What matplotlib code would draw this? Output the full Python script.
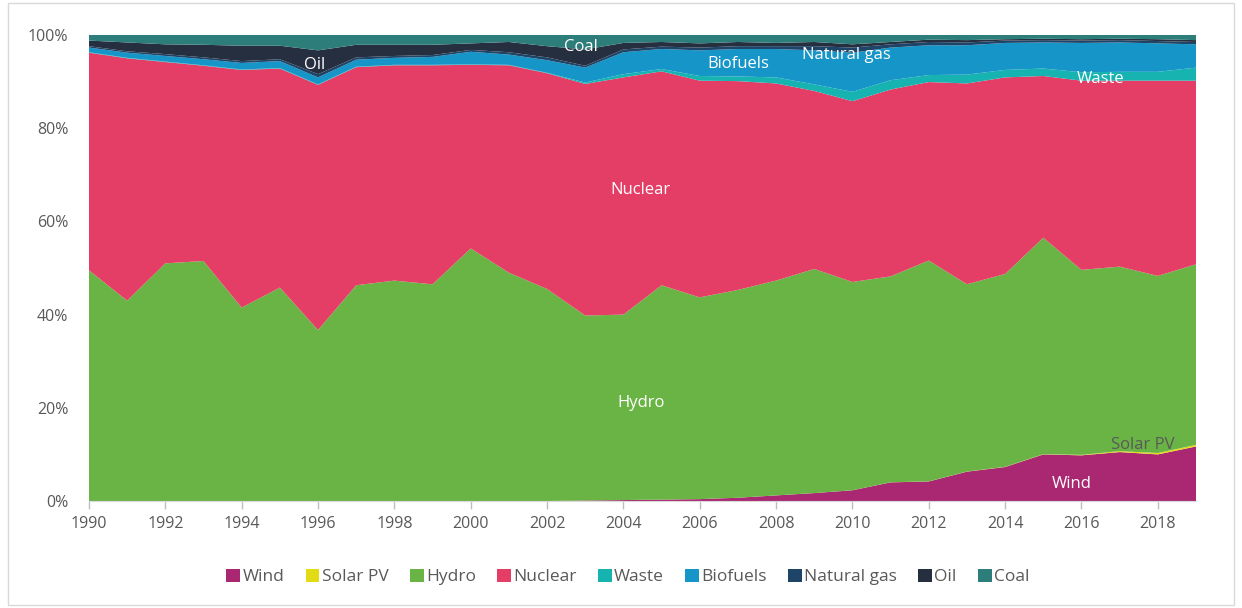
import matplotlib
matplotlib.use("Agg")
import matplotlib.pyplot as plt
from matplotlib.patches import Rectangle
from matplotlib.ticker import FuncFormatter
import numpy as np

plt.rcParams['font.family'] = ['Open Sans', 'DejaVu Sans']

years = list(range(1990, 2020))
wind = [0, 0, 0, 0, 0, 0, 0, 0, 0, 0, 0, 0, 0, 0.1, 0.2, 0.3, 0.4, 0.7, 1.2, 1.7,
        2.3, 4.0, 4.2, 6.3, 7.3, 10.0, 9.8, 10.5, 10.0, 11.7]
solar = [0]*21 + [0.01, 0.02, 0.03, 0.04, 0.05, 0.1, 0.2, 0.3, 0.35]
hydro = [49.5, 43.0, 51.0, 51.5, 41.5, 45.8, 36.7, 46.3, 47.3, 46.5,
         54.2, 49.0, 45.5, 39.7, 39.8, 46.0, 43.3, 44.6, 46.1, 48.1,
         44.7, 44.2, 47.4, 40.2, 41.4, 46.45, 39.7, 39.6, 38.0, 38.75]
nuclear = [46.7, 52.0, 43.2, 41.9, 51.0, 47.0, 52.6, 46.8, 46.2, 47.0,
           39.4, 44.5, 46.3, 49.7, 50.9, 45.9, 46.5, 44.8, 42.3, 38.2,
           38.8, 40.1, 38.3, 43.1, 42.2, 34.7, 40.6, 39.9, 41.9, 39.4]
waste = [0.1]*13 + [0.3, 0.7, 0.5, 1.0, 1.0, 1.3, 1.4, 2.0, 2.0, 1.5, 1.9, 1.6,
                    1.6, 1.8, 1.9, 1.9, 2.8]
biofuels = [1.0, 1.1, 1.2, 1.3, 1.4, 1.5, 1.5, 1.5, 1.5, 1.7,
            2.7, 2.2, 2.7, 3.2, 4.7, 4.3, 5.5, 5.9, 6.1, 7.3,
            8.4, 7.0, 6.4, 6.3, 5.8, 5.6, 6.3, 6.3, 6.1, 5.0]
natural_gas = [0.3, 0.3, 0.4, 0.4, 0.4, 0.4, 0.7, 0.5, 0.4, 0.4,
               0.4, 0.5, 0.6, 0.4, 0.6, 0.5, 0.6, 0.6, 0.6, 0.9,
               1.1, 0.7, 0.7, 0.6, 0.5, 0.5, 0.5, 0.5, 0.5, 0.5]
oil = [1.2, 1.9, 2.1, 2.7, 3.3, 2.9, 5.1, 2.7, 2.4, 2.2,
       1.4, 2.2, 2.4, 3.5, 1.4, 1.0, 0.9, 0.9, 0.7, 0.9,
       0.7, 0.5, 0.5, 0.5, 0.3, 0.3, 0.3, 0.3, 0.4, 0.4]
coal = [1.2, 1.6, 2.0, 2.1, 2.3, 2.3, 3.3, 2.1, 2.1, 2.1,
        1.8, 1.5, 2.4, 3.1, 1.7, 1.5, 1.8, 1.5, 1.7, 1.5,
        2.0, 1.5, 1.0, 1.1, 0.9, 0.8, 0.9, 0.8, 0.9, 1.1]

series_names = ["Wind", "Solar PV", "Hydro", "Nuclear", "Waste", "Biofuels",
                "Natural gas", "Oil", "Coal"]
colors = ["#AA2872", "#E3DC14", "#6AB445", "#E43D66", "#16B3B1", "#1695C8",
          "#1E4468", "#262F40", "#2D7E7B"]

fig = plt.figure(figsize=(12.42, 6.08), dpi=100)
ax = fig.add_axes([89/1242, 1-501/608, (1196-89)/1242, (501-35)/608])

data = np.array([wind, solar, hydro, nuclear, waste, biofuels, natural_gas, oil, coal], dtype=float)
data = data / data.sum(axis=0) * 100
ax.stackplot(years, data, colors=colors, labels=series_names, linewidth=0)

ax.set_xlim(1990, 2019)
ax.set_ylim(0, 100)
ax.set_yticks([0, 20, 40, 60, 80, 100])
ax.yaxis.set_major_formatter(FuncFormatter(lambda v, p: f"{int(v)}%"))
ax.set_xticks(list(range(1990, 2019, 2)))
ax.tick_params(axis='y', length=0, labelsize=11.5, colors="#595959", pad=15)
ax.tick_params(axis='x', length=6, width=1, color="#BFBFBF", labelsize=11.5,
               labelcolor="#595959", pad=5)
for s in ["top", "right", "left"]:
    ax.spines[s].set_visible(False)
ax.spines["bottom"].set_color("#D9D9D9")

txt = dict(color="white", fontsize=12, ha="center", va="center")
ax.text(1995.9, 93.55, "Oil", **txt)
ax.text(2002.9, 97.4, "Coal", **txt)
ax.text(2007.0, 93.75, "Biofuels", **txt)
ax.text(2009.85, 95.75, "Natural gas", **txt)
ax.text(2016.5, 90.65, "Waste", **txt)
ax.text(2004.45, 66.75, "Nuclear", **txt)
ax.text(2004.45, 21.05, "Hydro", **txt)
ax.text(2015.75, 3.65, "Wind", **txt)
ax.text(2017.6, 11.95, "Solar PV", color="#595959", fontsize=12, ha="center", va="center")

handles, labels = ax.get_legend_handles_labels()
leg = fig.legend(handles, labels, loc="center", bbox_to_anchor=(628/1242, 1-577/608),
                 ncol=9, frameon=False, fontsize=12.5, handlelength=0.8, handleheight=0.8,
                 handletextpad=0.15, columnspacing=1.2, labelcolor="#595959")

fig.patches.append(Rectangle((8/1242, 3/608), 1-16/1242, 1-6/608, transform=fig.transFigure,
                             fill=False, edgecolor="#D9D9D9", linewidth=1))

fig.savefig("out.png", dpi=100, facecolor="white")
